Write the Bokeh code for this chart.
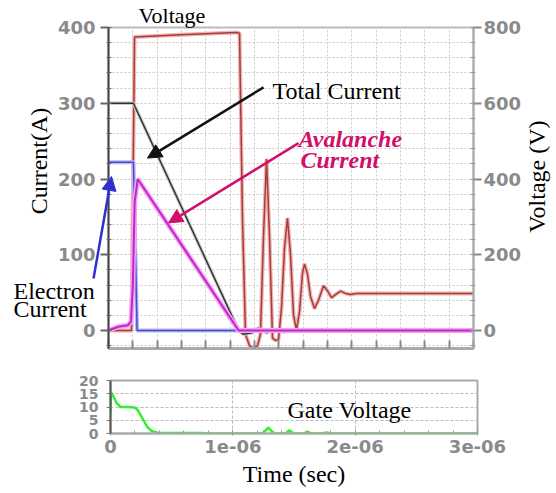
from bokeh.plotting import figure
from bokeh.models import Range1d, LinearAxis, FixedTicker, Label, Arrow, NormalHead
from bokeh.layouts import column, row
from bokeh.embed import file_html
from bokeh.resources import INLINE

# ---------------- data (time in microseconds) ----------------
volt_t = [0.0, 0.189, 0.214, 0.592, 1.052, 1.077, 1.101, 1.126, 1.159, 1.192, 1.225, 1.249,
          1.274, 1.299, 1.323, 1.348, 1.373, 1.397, 1.422, 1.447, 1.471, 1.496, 1.521, 1.545,
          1.570, 1.594, 1.611, 1.635, 1.660, 1.693, 1.726, 1.767, 1.800, 1.833, 1.866, 1.907,
          1.948, 1.989, 2.038, 3.0]
volt_v = [0, 0, 775, 781, 787, 785, 300, -10, -40, -47, -40, -10,
          250, 453, 250, -20, -26, -24, 60, 220, 297, 200, 40, 2,
          50, 150, 176, 150, 90, 58, 80, 118, 105, 87, 95, 104,
          98, 95, 98, 98]

total_t = [0.0, 0.205, 1.07, 1.11, 1.18, 1.23, 1.30, 1.36, 1.44, 1.52, 1.58, 3.0]
total_i = [300, 300, 0, -5, -3, 3, -3, 2, -2, 1, 0, 0]

elec_t = [0.0, 0.205, 0.235, 3.0]
elec_i = [222, 222, 0, 0]

aval_t = [0.0, 0.08, 0.16, 0.185, 0.20, 0.215, 0.24, 1.07, 3.0]
aval_i = [0, 5, 7, 12, 60, 170, 200, 0, 0]

gate_t = [0.0, 0.004, 0.025, 0.05, 0.082, 0.147, 0.196, 0.22, 0.245, 0.27, 0.30, 0.335, 0.384,
          0.736, 0.80, 1.24, 1.275, 1.29, 1.316, 1.34, 1.43, 1.463, 1.496, 1.578, 1.61, 1.643,
          1.733, 1.766, 1.798, 3.0]
gate_v = [7.5, 15.5, 14, 11.5, 10, 10, 9.8, 9, 7, 5, 2.5, 1, 0.3,
          0.2, 0, 0, 1.5, 2.2, 1, 0, 0, 1.2, 0, 0, 0.6, 0,
          0, 0.4, 0, 0]

cur_ticks = [0, 100, 200, 300, 400]
cur_labels = ["0", "100", "200", "300", "400"]
volt_ticks = [0, 200, 400, 600, 800]
volt_labels = ["0", "200", "400", "600", "800"]
gate_ticks = [0, 5, 10, 15, 20]
gate_labels = ["0", "5", "10", "15", "20"]
time_ticks = [0, 1, 2, 3]
time_labels = ["0", "1e-06", "2e-06", "3e-06"]

SERIF = "Liberation Serif"
TICKFONT = "DejaVu Sans"
TICKCOL = "#8a8a8a"
NB = "\u00a0"

# layout geometry of the main figure
W, H1 = 556, 362
BL, BR, BT, BB = 108, 83, 26, 14
X0, X1 = 0.0, 3.0
Y0, Y1 = -23.7, 400.0

# ---------------- main figure ----------------
p = figure(width=W, height=H1, output_backend="svg", toolbar_location=None,
           x_range=Range1d(X0, X1), y_range=Range1d(Y0, Y1),
           min_border_left=BL, min_border_right=BR, min_border_top=BT, min_border_bottom=BB)
p.title.text = "Voltage"
p.title.text_font = SERIF
p.title.text_font_size = "22px"
p.title.text_font_style = "normal"
p.title.text_color = "black"
p.title.align = "left"
p.title.offset = 30
p.title.standoff = 0
p.extra_y_ranges = {"volt": Range1d(2 * Y0, 2 * Y1)}
p.background_fill_color = "white"
p.outline_line_color = "#bbbbbb"
p.outline_line_width = 2

fine_x = [i * 0.2 for i in range(16)]
p.xaxis.ticker = FixedTicker(ticks=fine_x)
p.xaxis.major_label_text_font_size = "0px"
p.xaxis.major_label_standoff = 0
p.xaxis.major_tick_in = 8
p.xaxis.major_tick_out = 0
p.xaxis.minor_tick_line_color = None
p.xaxis.axis_line_color = "#aaaaaa"
p.xaxis.axis_line_width = 3
p.xaxis.major_tick_line_color = "#888888"
p.xaxis.major_tick_line_width = 2

yax = p.yaxis[0]
yax.ticker = FixedTicker(ticks=cur_ticks, minor_ticks=list(range(-20, 401, 20)))
yax.major_label_overrides = dict(zip(cur_ticks, cur_labels))
yax.axis_line_color = "#444444"
yax.axis_line_width = 2
yax.major_tick_out = 8
yax.major_tick_in = 0
yax.minor_tick_in = 3
yax.minor_tick_out = 2
yax.major_tick_line_color = "#666666"
yax.major_tick_line_width = 2
yax.minor_tick_line_color = "#666666"
yax.major_label_standoff = 5
yax.major_label_text_font = TICKFONT
yax.major_label_text_font_style = "bold"
yax.major_label_text_font_size = "18px"
yax.major_label_text_color = TICKCOL
yax.axis_label = NB * 9 + "Current(A)"
yax.axis_label_text_font = SERIF
yax.axis_label_text_font_size = "24px"
yax.axis_label_text_font_style = "normal"
yax.axis_label_text_color = "black"
yax.axis_label_standoff = 3

vax = LinearAxis(y_range_name="volt",
                 ticker=FixedTicker(ticks=volt_ticks, minor_ticks=list(range(-40, 801, 40))))
vax.major_label_overrides = dict(zip(volt_ticks, volt_labels))
vax.axis_line_color = "#aaaaaa"
vax.axis_line_width = 2
vax.major_tick_out = 8
vax.major_tick_in = 0
vax.minor_tick_in = 3
vax.minor_tick_out = 2
vax.major_tick_line_color = "#888888"
vax.major_tick_line_width = 2
vax.minor_tick_line_color = "#999999"
vax.major_label_standoff = 2
vax.major_label_text_font = TICKFONT
vax.major_label_text_font_style = "bold"
vax.major_label_text_font_size = "18px"
vax.major_label_text_color = TICKCOL
p.add_layout(vax, "right")

p.xgrid.ticker = FixedTicker(ticks=fine_x)
p.ygrid.ticker = FixedTicker(ticks=list(range(-20, 401, 20)))
for g in (p.xgrid, p.ygrid):
    g.grid_line_color = "#c8c8c8"
    g.grid_line_dash = "2 2"
    g.grid_line_width = 1

# curves
p.line(volt_t, volt_v, y_range_name="volt", line_color="#eeb4b4", line_width=4)
p.line(volt_t, volt_v, y_range_name="volt", line_color="#a83c3c", line_width=1.5)
p.line(total_t, total_i, line_color="#cccccc", line_width=3.5)
p.line(total_t, total_i, line_color="#333333", line_width=1.5)
p.line(elec_t, elec_i, line_color="#b8b8f4", line_width=4)
p.line(elec_t, elec_i, line_color="#4a4ad8", line_width=1.5)
p.line(aval_t, aval_i, line_color="#f2a6f2", line_width=5)
p.line(aval_t, aval_i, line_color="#c424c8", line_width=2)


def txt(fig, x, y, s, color="black", style="normal", align="left", baseline="alphabetic", angle=0):
    fig.add_layout(Label(x=x, y=y, text=s, text_font=SERIF, text_font_size="24px",
                         text_color=color, text_font_style=style, angle=angle,
                         text_align=align, text_baseline=baseline))


def arrow(fig, x0, y0, x1, y1, c):
    fig.add_layout(Arrow(end=NormalHead(size=14, fill_color=c, line_color=c),
                         x_start=x0, y_start=y0, x_end=x1, y_end=y1,
                         line_color=c, line_width=2.5))


txt(p, 1.348, 316, "Total Current")
txt(p, 1.562, 252.6, "Avalanche", color="#d0106a", style="bold italic")
txt(p, 1.578, 225, "Current", color="#d0106a", style="bold italic")
arrow(p, 1.274, 321, 0.3205, 227.6, "#111111")
arrow(p, 1.562, 247.4, 0.493, 142.1, "#d0106a")

# ------- transparent overlay with the same data scale, covering the whole canvas -------
sx = (W - BL - BR) / (X1 - X0)
sy = (H1 - BT - BB) / (Y1 - Y0)
ov = figure(width=W, height=H1, output_backend="svg", toolbar_location=None,
            x_axis_location=None, y_axis_location=None,
            x_range=Range1d(X0 - BL / sx, X1 + BR / sx),
            y_range=Range1d(Y0 - BB / sy, Y1 + BT / sy),
            min_border_left=0, min_border_right=0, min_border_top=0, min_border_bottom=0)
ov.title.visible = False
ov.background_fill_color = None
ov.border_fill_color = None
ov.outline_line_color = None
ov.grid.visible = False
ov.margin = (0, 0, 0, -W)

txt(ov, -0.781, 43.4, "Electron")
txt(ov, -0.781, 15.8, "Current")
txt(ov, 3.518, 213, "Voltage (V)", align="center", baseline="middle", angle=1.5708)
arrow(ov, -0.123, 61.8, 0.0247, 213.2, "#3030d0")

# ---------------- gate figure ----------------
q = figure(width=W, height=131, output_backend="svg", toolbar_location=None,
           x_range=Range1d(0, 3), y_range=Range1d(0, 20),
           min_border_left=110, min_border_right=79, min_border_top=18, min_border_bottom=60)
q.title.visible = False
q.outline_line_color = "#aaaaaa"
q.outline_line_width = 2
xq = q.xaxis[0]
xq.ticker = FixedTicker(ticks=time_ticks, minor_ticks=fine_x)
xq.major_label_overrides = dict(zip(time_ticks, time_labels))
xq.axis_line_color = "#aaaaaa"
xq.axis_line_width = 2
xq.major_tick_in = 4
xq.major_tick_out = 2
xq.minor_tick_in = 3
xq.minor_tick_out = 0
xq.major_tick_line_color = "#999999"
xq.minor_tick_line_color = "#999999"
xq.major_label_standoff = 4
xq.major_label_text_font = TICKFONT
xq.major_label_text_font_style = "bold"
xq.major_label_text_font_size = "18px"
xq.major_label_text_color = TICKCOL
xq.axis_label = "Time (sec)"
xq.axis_label_text_font = SERIF
xq.axis_label_text_font_size = "24px"
xq.axis_label_text_font_style = "normal"
xq.axis_label_text_color = "black"
xq.axis_label_standoff = 5

yq = q.yaxis[0]
yq.ticker = FixedTicker(ticks=gate_ticks)
yq.major_label_overrides = dict(zip(gate_ticks, gate_labels))
yq.axis_line_color = "#555555"
yq.axis_line_width = 2
yq.major_tick_out = 4
yq.major_tick_in = 0
yq.major_tick_line_color = "#777777"
yq.minor_tick_line_color = None
yq.major_label_standoff = 8
yq.major_label_text_font = TICKFONT
yq.major_label_text_font_style = "bold"
yq.major_label_text_font_size = "14px"
yq.major_label_text_color = TICKCOL

q.xgrid.ticker = FixedTicker(ticks=[1, 2])
q.ygrid.ticker = FixedTicker(ticks=[5, 10, 15])
for g in (q.xgrid, q.ygrid):
    g.grid_line_color = "#bbbbbb"
    g.grid_line_dash = "3 2"

q.line(gate_t, gate_v, line_color="#33ee33", line_width=2.5)
txt(q, 1.447, 8.68, "Gate Voltage")

layout = column(row(p, ov), q)
open("out.html", "w").write(file_html(layout, INLINE))
